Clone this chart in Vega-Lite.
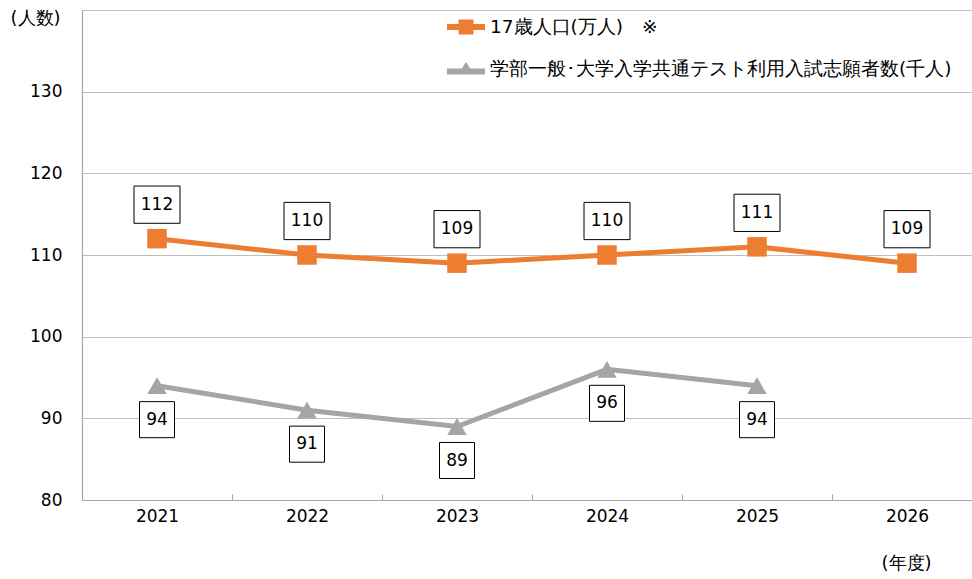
{
  "$schema": "https://vega.github.io/schema/vega-lite/v6.json",
  "width": 900,
  "height": 490,
  "autosize": {"type": "none"},
  "padding": {"left": 82, "top": 10, "right": 0, "bottom": 79},
  "background": "white",
  "config": {
    "view": {"stroke": null},
    "font": "DejaVu Sans",
    "text": {"font": "DejaVu Sans"}
  },
  "data": {
    "values": [
      {"year": "2021", "series": "17歳人口(万人)　※", "value": 112},
      {"year": "2022", "series": "17歳人口(万人)　※", "value": 110},
      {"year": "2023", "series": "17歳人口(万人)　※", "value": 109},
      {"year": "2024", "series": "17歳人口(万人)　※", "value": 110},
      {"year": "2025", "series": "17歳人口(万人)　※", "value": 111},
      {"year": "2026", "series": "17歳人口(万人)　※", "value": 109},
      {"year": "2021", "series": "学部一般･大学入学共通テスト利用入試志願者数(千人)", "value": 94},
      {"year": "2022", "series": "学部一般･大学入学共通テスト利用入試志願者数(千人)", "value": 91},
      {"year": "2023", "series": "学部一般･大学入学共通テスト利用入試志願者数(千人)", "value": 89},
      {"year": "2024", "series": "学部一般･大学入学共通テスト利用入試志願者数(千人)", "value": 96},
      {"year": "2025", "series": "学部一般･大学入学共通テスト利用入試志願者数(千人)", "value": 94}
    ]
  },
  "encoding": {
    "x": {
      "field": "year", "type": "ordinal", "bandPosition": 0.5,
      "scale": {"type": "band", "paddingInner": 0, "paddingOuter": 0},
      "axis": {
        "title": "(年度)", "titleX": 824, "titleY": 63, "titleAlign": "center", "titleBaseline": "middle",
        "titleFont": "DejaVu Sans", "titleFontSize": 18, "titleFontWeight": "normal", "titleColor": "#000000",
        "labelAngle": 0, "labelFontSize": 17, "labelColor": "#000000", "labelPadding": 14,
        "tickBand": "extent", "tickSize": -6, "tickColor": "#A6A6A6", "ticks": true,
        "domainColor": "#A6A6A6", "domainWidth": 1.2, "grid": false
      }
    },
    "y": {
      "field": "value", "type": "quantitative",
      "scale": {"domain": [80, 140], "nice": false, "zero": false},
      "axis": {
        "title": "(人数)", "titleAngle": 0, "titleX": -47, "titleY": 8, "titleAlign": "center", "titleBaseline": "middle",
        "titleFont": "DejaVu Sans", "titleFontSize": 18, "titleFontWeight": "normal", "titleColor": "#000000",
        "values": [80, 90, 100, 110, 120, 130, 140],
        "labelExpr": "datum.value == 140 ? '' : datum.label",
        "labelFontSize": 17, "labelColor": "#000000", "labelPadding": 20,
        "ticks": false, "domainColor": "#A6A6A6", "domainWidth": 1.2,
        "grid": true, "gridColor": "#BFBFBF", "gridWidth": 1.2
      }
    }
  },
  "layer": [
    {
      "mark": {"type": "line", "strokeWidth": 5},
      "encoding": {
        "color": {
          "field": "series", "type": "nominal",
          "scale": {"domain": ["17歳人口(万人)　※", "学部一般･大学入学共通テスト利用入試志願者数(千人)"], "range": ["#ED7D31", "#A5A5A5"]},
          "legend": {
            "title": null, "orient": "none", "legendX": 374, "legendY": 7,
            "symbolSize": 400, "labelFontSize": 18.5, "labelColor": "#000000", "labelOffset": 14,
            "rowPadding": 22, "padding": 0, "labelLimit": 700,
            "labelFont": "DejaVu Sans",
            "encode": {
              "symbols": {
                "update": {
                  "shape": {"signal": "indexof(datum.value, '17') === 0 ? 'M-1.9,-0.3L1.9,-0.3L1.9,0.3L-1.9,0.3Z M-0.75,-0.75L0.75,-0.75L0.75,0.75L-0.75,0.75Z' : 'M-1.9,-0.05L1.9,-0.05L1.9,0.55L-1.9,0.55Z M0,-0.7L0.8,0.55L-0.8,0.55Z'"},
                  "fill": {"signal": "indexof(datum.value, '17') === 0 ? '#ED7D31' : '#A5A5A5'"},
                  "stroke": {"value": "transparent"},
                  "strokeWidth": {"value": 0},
                  "opacity": {"value": 1}
                }
              }
            }
          }
        }
      }
    },
    {
      "transform": [{"filter": "indexof(datum.series, '17') === 0"}],
      "mark": {"type": "point", "shape": "square", "filled": true, "opacity": 1, "size": 380, "color": "#ED7D31"}
    },
    {
      "transform": [{"filter": "indexof(datum.series, '17') !== 0"}],
      "mark": {"type": "point", "shape": "triangle-up", "filled": true, "opacity": 1, "size": 380, "color": "#A5A5A5"}
    },
    {
      "transform": [{"filter": "indexof(datum.series, '17') === 0"}],
      "mark": {"type": "point", "shape": "M-1,-0.81L1,-0.81L1,0.81L-1,0.81Z", "size": 2116, "filled": true, "fill": "white", "stroke": "black", "strokeWidth": 1, "opacity": 1, "yOffset": -34}
    },
    {
      "transform": [{"filter": "indexof(datum.series, '17') === 0"}],
      "mark": {"type": "text", "fontSize": 17, "color": "black", "yOffset": -34, "baseline": "middle", "align": "center"},
      "encoding": {"text": {"field": "value", "type": "quantitative"}}
    },
    {
      "transform": [{"filter": "indexof(datum.series, '17') !== 0"}],
      "mark": {"type": "point", "shape": "M-1,-1.03L1,-1.03L1,1.03L-1,1.03Z", "size": 1225, "filled": true, "fill": "white", "stroke": "black", "strokeWidth": 1, "opacity": 1, "yOffset": 34}
    },
    {
      "transform": [{"filter": "indexof(datum.series, '17') !== 0"}],
      "mark": {"type": "text", "fontSize": 17, "color": "black", "yOffset": 34, "baseline": "middle", "align": "center"},
      "encoding": {"text": {"field": "value", "type": "quantitative"}}
    }
  ]
}
